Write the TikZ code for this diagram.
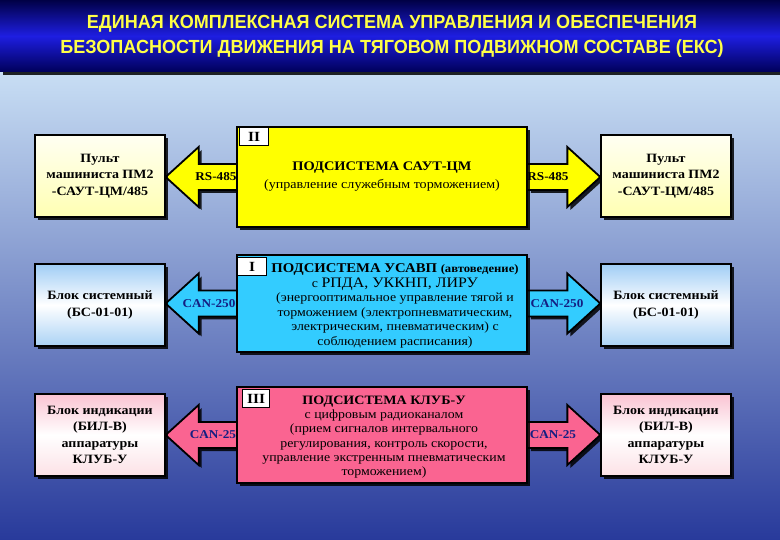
\documentclass[tikz,border=0pt]{standalone}
\usepackage{fontspec}
\setmainfont[FakeStretch=1.1]{Liberation Serif}
\newfontfamily\titlefont[FakeStretch=0.95]{Liberation Sans}
\usetikzlibrary{shadows,backgrounds,calc}

\definecolor{sautyellow}{RGB}{255,255,0}
\definecolor{usavpcyan}{RGB}{51,204,255}
\definecolor{klubpink}{RGB}{250,100,145}
\definecolor{canblue}{RGB}{20,30,130}
\definecolor{titleyellow}{RGB}{255,255,70}

% block arrow: style, start (sub box side), tip (device box side), direction
\newcommand{\busarrow}[4]{%
  \draw[#1] let \p1=(#2), \p2=(#3), \n1={\x2-#4*33pt} in
    (\x1,\y1+13pt) -- (\n1,\y1+13pt) -- (\n1,\y1+30pt) -- (\x2,\y1)
    -- (\n1,\y1-30pt) -- (\n1,\y1-13pt) -- (\x1,\y1-13pt);}

\begin{document}
\begin{tikzpicture}[x=1pt,y=-1pt]

\tikzset{shade/.style = {drop shadow={shadow xshift=3pt, shadow yshift=-3pt, fill=black, opacity=0.85}}}
\tikzset{device/.style = {shape=rectangle, draw, line width=1.3pt, shade, minimum width=130pt, minimum height=82pt,
  align=center, font=\bfseries\fontsize{12.7}{16.5}\selectfont}}
\tikzset{subsys/.style = {shape=rectangle, draw, line width=1.8pt, shade, minimum width=290pt, align=center}}
\tikzset{num/.style = {draw, line width=1pt, fill=white, minimum width=29pt, minimum height=18pt, inner sep=0pt,
  anchor=north west, font=\bfseries\fontsize{14}{14}\selectfont}}
\tikzset{bus/.style = {draw, line width=1.8pt, line join=miter, shade}}
\tikzset{bustext/.style = {font=\bfseries\fontsize{12}{12}\selectfont}}

\useasboundingbox (0,0) rectangle (780,540);

%subsystems
\node[subsys, fill=sautyellow, minimum height=100pt, font=\fontsize{12.8}{18}\selectfont] (saut) at (382,177)
  {{\bfseries\fontsize{13.1}{18}\selectfont ПОДСИСТЕМА САУТ-ЦМ}\\(управление служебным торможением)};
\node[subsys, fill=usavpcyan, minimum height=97pt] (usavp) at (382,303.5) {};
\node[font=\fontsize{12.6}{14.5}\selectfont, align=center] (usavptext) at (395,306)
  {{\bfseries\fontsize{13.4}{14.5}\selectfont ПОДСИСТЕМА УСАВП {\fontsize{11.5}{14.5}\selectfont(автоведение)}}\\
   с {\fontsize{14.5}{15.5}\selectfont РПДА, УККНП, ЛИРУ}\\
   (энергооптимальное управление тягой и\\торможением (электропневматическим,\\
   электрическим, пневматическим) с\\соблюдением расписания)};
\node[subsys, fill=klubpink, minimum height=96pt] (klub) at (382,435) {};
\node[font=\fontsize{12.6}{14.3}\selectfont, align=center] (klubtext) at (384,437)
  {{\bfseries\fontsize{12.8}{14.3}\selectfont ПОДСИСТЕМА КЛУБ-У}\\с цифровым радиоканалом\\(прием сигналов интервального\\
   регулирования, контроль скорости,\\управление экстренным пневматическим\\торможением)};
\node[num] (n2) at ([shift={(3,1)}]saut.north west) {II};
\node[num] (n1) at ([shift={(1,3)}]usavp.north west) {I};
\node[num, minimum width=27pt] (n3) at ([shift={(6,3)}]klub.north west) {III};

%devices
\node[device, top color=yellow!5, bottom color=yellow!30] (pultl) at (100,176) {Пульт\\машиниста ПМ2\\-САУТ-ЦМ/485};
\node[device, top color=yellow!5, bottom color=yellow!30] (pultr) at (666,176) {Пульт\\машиниста ПМ2\\-САУТ-ЦМ/485};
\node[device, top color={rgb,255:red,160;green,205;blue,245}, bottom color={rgb,255:red,170;green,210;blue,245},
  middle color=white] (bsl) at (100,305) {Блок системный\\(БС-01-01)};
\node[device, top color={rgb,255:red,160;green,205;blue,245}, bottom color={rgb,255:red,170;green,210;blue,245},
  middle color=white] (bsr) at (666,305) {Блок системный\\(БС-01-01)};
\node[device, top color={rgb,255:red,250;green,195;blue,210}, bottom color={rgb,255:red,252;green,225;blue,230},
  middle color=white] (bill) at (100,435) {Блок индикации\\(БИЛ-В)\\аппаратуры\\КЛУБ-У};
\node[device, top color={rgb,255:red,250;green,195;blue,210}, bottom color={rgb,255:red,252;green,225;blue,230},
  middle color=white] (bilr) at (666,435) {Блок индикации\\(БИЛ-В)\\аппаратуры\\КЛУБ-У};

%title
\node[font=\titlefont\bfseries\fontsize{19}{25}\selectfont, text=titleyellow, align=center] (title) at (392,36)
  {ЕДИНАЯ КОМПЛЕКСНАЯ СИСТЕМА УПРАВЛЕНИЯ И ОБЕСПЕЧЕНИЯ\\БЕЗОПАСНОСТИ ДВИЖЕНИЯ НА ТЯГОВОМ ПОДВИЖНОМ СОСТАВЕ (ЕКС)};

\begin{pgfonlayer}{background}
%backdrop
\shade[shading=axis, top color={rgb,255:red,200;green,222;blue,244}, bottom color={rgb,255:red,40;green,58;blue,155}]
  (0,72) rectangle (780,540);
\shade[shading=axis, top color={rgb,255:red,0;green,0;blue,70}, bottom color={rgb,255:red,0;green,0;blue,90},
  middle color={rgb,255:red,30;green,30;blue,225}] (0,0) rectangle (780,72);
%arrows
\busarrow{bus, fill=sautyellow}{saut.west}{pultl.east}{-1}
\busarrow{bus, fill=sautyellow}{saut.east}{pultr.west}{1}
\busarrow{bus, fill=usavpcyan}{usavp.west}{bsl.east}{-1}
\busarrow{bus, fill=usavpcyan}{usavp.east}{bsr.west}{1}
\busarrow{bus, fill=klubpink}{klub.west}{bill.east}{-1}
\busarrow{bus, fill=klubpink}{klub.east}{bilr.west}{1}
\end{pgfonlayer}

%bus labels
\node[bustext] (rsl) at (216,177) {RS-485};
\node[bustext] (rsr) at (548,177) {RS-485};
\node[bustext, text=canblue] (canl) at (209,304) {CAN-250};
\node[bustext, text=canblue] (canr) at (557,304) {CAN-250};
\node[bustext, text=canblue] (can25l) at (213,435) {CAN-25};
\node[bustext, text=canblue] (can25r) at (553,435) {CAN-25};

\end{tikzpicture}
\end{document}
